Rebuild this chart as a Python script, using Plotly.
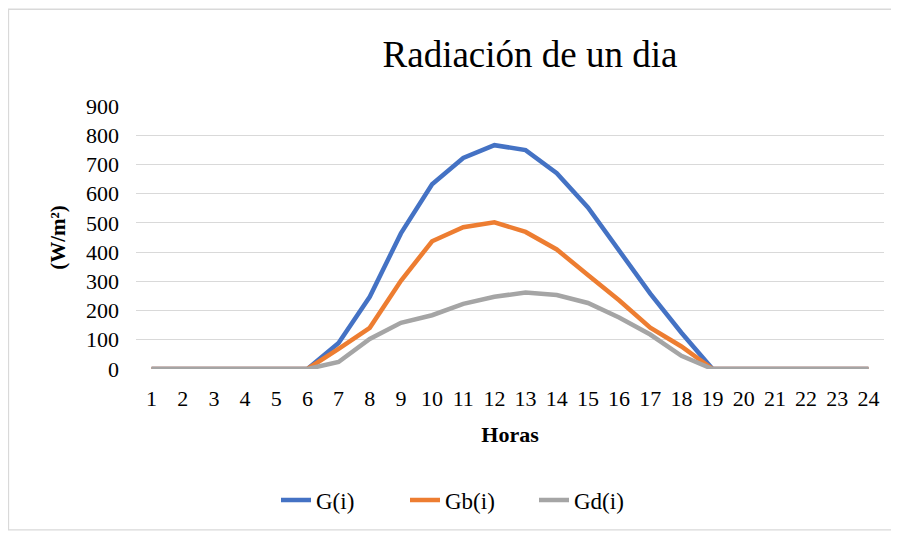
import plotly.graph_objects as go

horas = list(range(1, 25))
g_i = [0, 0, 0, 0, 0, 0, 89, 247, 464, 632, 722, 766, 749, 670, 553, 405, 258, 124, 0, 0, 0, 0, 0, 0]
gb_i = [0, 0, 0, 0, 0, 0, 69, 141, 302, 437, 485, 502, 469, 409, 322, 235, 141, 77, 0, 0, 0, 0, 0, 0]
gd_i = [0, 0, 0, 0, 0, 0, 24, 103, 158, 184, 223, 247, 262, 253, 226, 176, 118, 45, 0, 0, 0, 0, 0, 0]

series = [("G(i)", g_i, "#4472c4"), ("Gb(i)", gb_i, "#ed7d31"), ("Gd(i)", gd_i, "#a5a5a5")]

fig = go.Figure()
for name, vals, col in series:
    fig.add_trace(go.Scatter(x=horas, y=vals, name=name, mode="lines",
                             line=dict(color=col, width=4.5)))

# the page body adds an 8px margin, so figure coords = page coords - 8
W, H = 891, 526
L, T, R, B = 128, 98, 15, 163
pw, ph = W - L - R, H - T - B

fig.update_layout(
    width=W, height=H,
    margin=dict(l=L, r=R, t=T, b=B),
    paper_bgcolor="white", plot_bgcolor="white",
    font=dict(family="Liberation Serif", size=22, color="black"),
    title=dict(text="Radiación de un dia", x=(530 - 8) / W, xanchor="center",
               y=1 - (54 - 8) / H, yref="container", yanchor="middle",
               font=dict(size=37)),
    showlegend=True,
    legend=dict(orientation="h", x=(276 - 8 - L) / pw, xanchor="left",
                y=(H - B - (503 - 8)) / ph, yanchor="middle",
                entrywidth=84, font=dict(size=23)),
    xaxis=dict(range=[0.5, 24.5], tickmode="array", tickvals=horas, ticktext=[str(h) for h in horas],
               showgrid=False, zeroline=False, showline=False, ticks="",
               ticklabelstandoff=14,
               title=dict(text="<b>Horas</b>", font=dict(size=22), standoff=16)),
    yaxis=dict(range=[0, 900], dtick=100, gridcolor="#d9d9d9", gridwidth=1.3,
               zeroline=False, showline=False, ticks="", ticklabelstandoff=16,
               title=dict(text="<b>(W/m²)</b>", font=dict(size=21), standoff=14)),
    shapes=[dict(type="rect", xref="paper", yref="paper",
                 x0=(0.5 - L) / pw, x1=(W - 1 - L) / pw,
                 y0=(H - B - (H - 1)) / ph, y1=(H - B - 0.5) / ph,
                 line=dict(color="#d9d9d9", width=1.3), layer="below")],
)

fig.write_html("out.html")
